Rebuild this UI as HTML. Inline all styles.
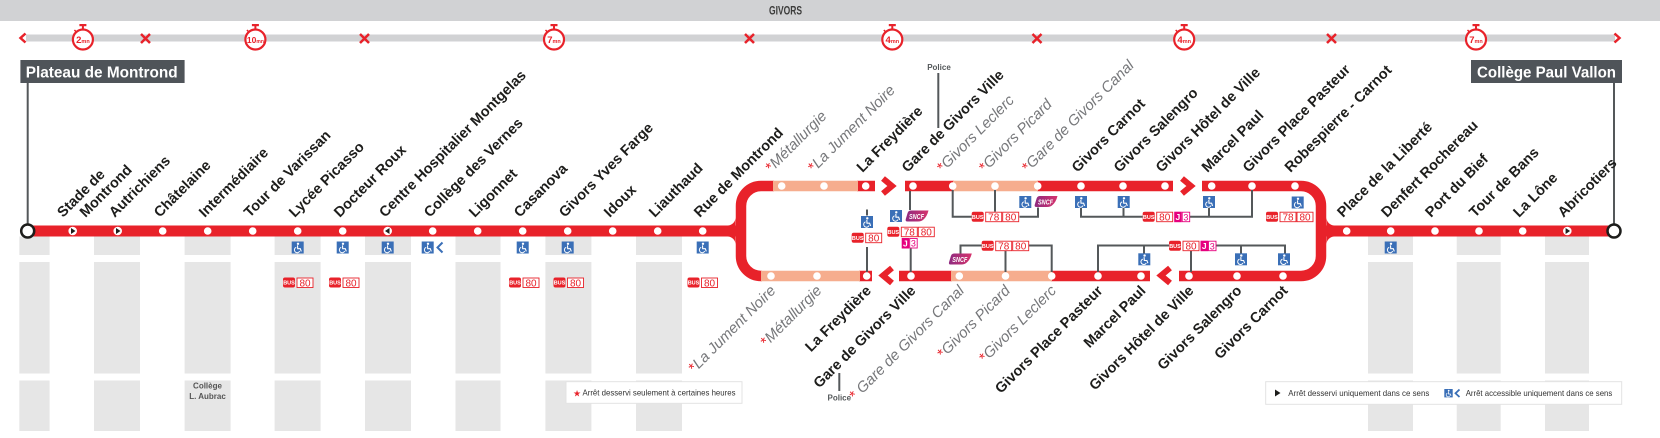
<!DOCTYPE html>
<html><head><meta charset="utf-8"><style>
html,body{margin:0;padding:0;background:#fff;}
svg{display:block}
.s{font-family:"Liberation Sans",sans-serif;font-weight:bold;font-size:14.5px;fill:#1d1d1b}
.i{font-family:"Liberation Sans",sans-serif;font-style:italic;font-size:15px;fill:#76777a}
.r{fill:#e8222a;font-style:normal}
.bt{font-family:"Liberation Sans",sans-serif;font-weight:bold;font-size:5.5px;fill:#fff}
.bn{font-family:"Liberation Sans",sans-serif;font-size:10px;fill:#e8222a}
.pn{font-family:"Liberation Sans",sans-serif;font-size:9px;fill:#e6007e}
.pj{font-family:"Liberation Sans",sans-serif;font-weight:bold;font-size:8.5px;fill:#fff}
.sn{font-family:"Liberation Sans",sans-serif;font-weight:bold;font-style:italic;font-size:7px;fill:#fff}
.sw{font-family:"Liberation Sans",sans-serif;font-weight:bold;fill:#e8222a}
.lg{font-family:"Liberation Sans",sans-serif;font-size:8.5px;fill:#333}
.po{font-family:"Liberation Sans",sans-serif;font-weight:bold;font-size:8px;fill:#54585a}
.tb{font-family:"Liberation Sans",sans-serif;font-weight:bold;font-size:16px;fill:#fff}
.cn{fill:none;stroke:#54585a;stroke-width:2}
</style></head><body>
<svg width="1660" height="438" viewBox="0 0 1660 438" xmlns="http://www.w3.org/2000/svg" xmlns:xlink="http://www.w3.org/1999/xlink">
<defs>
<linearGradient id="sg" x1="0" x2="1" y1="0" y2="0"><stop offset="0" stop-color="#8e2a80"/><stop offset="1" stop-color="#d6336c"/></linearGradient>
<g id="wc"><rect width="12" height="12" fill="#3a6fb7"/><circle cx="6.3" cy="2.3" r="1.2" fill="#fff"/><path d="M5.8 3.8 L6 7.2 H8.6 L9.6 9.9" fill="none" stroke="#fff" stroke-width="1.1"/><path d="M4.5 5.8 A2.8 2.8 0 1 0 8 9.6" fill="none" stroke="#fff" stroke-width="1"/></g>
<g id="snl"><path d="M2.5 11 Q0 11 0.8 8.5 L2.6 2.5 Q3.4 0 6 0 H23.5 Q22 6 18.5 9 Q16.5 11 13 11 Z" fill="url(#sg)"/></g>
</defs>

<!-- grey columns -->
<g fill="#e6e6e6">
<rect x="19.3" y="236.5" width="30.3" height="194.5"/>
<rect x="94" y="236.5" width="46" height="194.5"/>
<rect x="184.6" y="236.5" width="46" height="194.5"/>
<rect x="274.6" y="236.5" width="46" height="194.5"/>
<rect x="365" y="236.5" width="46" height="194.5"/>
<rect x="455.5" y="236.5" width="45" height="194.5"/>
<rect x="545.4" y="236.5" width="46" height="194.5"/>
<rect x="636" y="236.5" width="46" height="194.5"/>
<rect x="1368" y="236.5" width="45" height="194.5"/>
<rect x="1456.7" y="236.5" width="44" height="194.5"/>
<rect x="1545" y="236.5" width="44" height="194.5"/>
</g>
<g fill="#fff">
<rect x="0" y="255" width="735" height="7"/>
<rect x="0" y="373.5" width="735" height="7"/>
<rect x="1340" y="255" width="320" height="7"/>
<rect x="1340" y="373.5" width="320" height="7"/>
</g>

<!-- top band -->
<rect x="0" y="0" width="1660" height="21" fill="#d1d2d4"/>
<text x="785.5" y="14.5" text-anchor="middle" font-family="Liberation Sans, sans-serif" font-weight="bold" font-size="11.5" fill="#3c3c3b" textLength="33" lengthAdjust="spacingAndGlyphs">GIVORS</text>

<!-- timing bar -->
<rect x="26" y="34.5" width="1589" height="7" fill="#d1d2d4"/>
<g fill="none" stroke="#e8222a" stroke-width="2.5">
<polyline points="25.5,33.5 20.5,38 25.5,42.5"/>
<polyline points="1614.5,33.5 1619.5,38 1614.5,42.5"/>
<path d="M141 34 L150 43 M150 34 L141 43"/>
<path d="M360 34 L369 43 M369 34 L360 43"/>
<path d="M745 34 L754 43 M754 34 L745 43"/>
<path d="M1032.5 34 L1041.5 43 M1041.5 34 L1032.5 43"/>
<path d="M1327 34 L1336 43 M1336 34 L1327 43"/>
</g>
<g transform="translate(82.9,39.5)"><circle r="10" fill="#fff" stroke="#e8222a" stroke-width="2.2"/><rect x="-3.5" y="-15.5" width="7" height="2.2" fill="#e8222a"/><rect x="-1" y="-13.5" width="2" height="3" fill="#e8222a"/><line x1="-8.5" y1="-9.5" x2="-6.5" y2="-7.5" stroke="#e8222a" stroke-width="1.5"/><text y="3.3" text-anchor="middle" class="sw"><tspan font-size="9.5">2</tspan><tspan font-size="5.5">mn</tspan></text></g>
<g transform="translate(255.4,39.5)"><circle r="10" fill="#fff" stroke="#e8222a" stroke-width="2.2"/><rect x="-3.5" y="-15.5" width="7" height="2.2" fill="#e8222a"/><rect x="-1" y="-13.5" width="2" height="3" fill="#e8222a"/><line x1="-8.5" y1="-9.5" x2="-6.5" y2="-7.5" stroke="#e8222a" stroke-width="1.5"/><text y="3.3" text-anchor="middle" class="sw"><tspan font-size="8.5">10</tspan><tspan font-size="5">mn</tspan></text></g>
<g transform="translate(554,39.5)"><circle r="10" fill="#fff" stroke="#e8222a" stroke-width="2.2"/><rect x="-3.5" y="-15.5" width="7" height="2.2" fill="#e8222a"/><rect x="-1" y="-13.5" width="2" height="3" fill="#e8222a"/><line x1="-8.5" y1="-9.5" x2="-6.5" y2="-7.5" stroke="#e8222a" stroke-width="1.5"/><text y="3.3" text-anchor="middle" class="sw"><tspan font-size="9.5">7</tspan><tspan font-size="5.5">mn</tspan></text></g>
<g transform="translate(892.3,39.5)"><circle r="10" fill="#fff" stroke="#e8222a" stroke-width="2.2"/><rect x="-3.5" y="-15.5" width="7" height="2.2" fill="#e8222a"/><rect x="-1" y="-13.5" width="2" height="3" fill="#e8222a"/><line x1="-8.5" y1="-9.5" x2="-6.5" y2="-7.5" stroke="#e8222a" stroke-width="1.5"/><text y="3.3" text-anchor="middle" class="sw"><tspan font-size="9.5">4</tspan><tspan font-size="5.5">mn</tspan></text></g>
<g transform="translate(1184.2,39.5)"><circle r="10" fill="#fff" stroke="#e8222a" stroke-width="2.2"/><rect x="-3.5" y="-15.5" width="7" height="2.2" fill="#e8222a"/><rect x="-1" y="-13.5" width="2" height="3" fill="#e8222a"/><line x1="-8.5" y1="-9.5" x2="-6.5" y2="-7.5" stroke="#e8222a" stroke-width="1.5"/><text y="3.3" text-anchor="middle" class="sw"><tspan font-size="9.5">4</tspan><tspan font-size="5.5">mn</tspan></text></g>
<g transform="translate(1476,39.5)"><circle r="10" fill="#fff" stroke="#e8222a" stroke-width="2.2"/><rect x="-3.5" y="-15.5" width="7" height="2.2" fill="#e8222a"/><rect x="-1" y="-13.5" width="2" height="3" fill="#e8222a"/><line x1="-8.5" y1="-9.5" x2="-6.5" y2="-7.5" stroke="#e8222a" stroke-width="1.5"/><text y="3.3" text-anchor="middle" class="sw"><tspan font-size="9.5">7</tspan><tspan font-size="5.5">mn</tspan></text></g>

<!-- terminus boxes -->
<rect x="20.4" y="60" width="164.2" height="23" fill="#4f5459"/>
<text x="25.7" y="77.5" class="tb" textLength="152" lengthAdjust="spacingAndGlyphs">Plateau de Montrond</text>
<rect x="1471" y="60" width="151" height="23" fill="#4f5459"/>
<text x="1477" y="77.5" class="tb" textLength="139" lengthAdjust="spacingAndGlyphs">Collège Paul Vallon</text>
<line x1="27.7" y1="83" x2="27.7" y2="225" stroke="#54585a" stroke-width="2"/>
<line x1="1614" y1="83" x2="1614" y2="225" stroke="#54585a" stroke-width="2"/>

<!-- main lines -->
<g stroke="#e8222a" stroke-width="11" fill="none">
<line x1="27.7" y1="231" x2="741" y2="231"/>
<line x1="1321" y1="231" x2="1614" y2="231"/>
</g>
<g fill="#e8222a">
<path d="M727.5 225.5 A8 8 0 0 0 735.5 217.5 L735.5 225.5 Z"/>
<path d="M727.5 236.5 A8 8 0 0 1 735.5 244.5 L735.5 236.5 Z"/>
<path d="M1334.5 225.5 A8 8 0 0 1 1326.5 217.5 L1326.5 225.5 Z"/>
<path d="M1334.5 236.5 A8 8 0 0 0 1326.5 244.5 L1326.5 236.5 Z"/>
</g>
<g stroke="#e8222a" stroke-width="10.5" fill="none">
<path d="M774 186 H761 A20 20 0 0 0 741 206 V256 A20 20 0 0 0 761 276 H762"/>
<path d="M1202 186 H1301 A20 20 0 0 1 1321 206 V256 A20 20 0 0 1 1301 276 H1179"/>
<path d="M857 186 H875 M905 186 H954 M1037 186 H1173"/>
<path d="M859 276 H872 M899 276 H952 M1051 276 H1150"/>
</g>
<g stroke="#f6ad8e" stroke-width="10.5" fill="none">
<path d="M773 186 H858 M953 186 H1038"/>
<path d="M761 276 H860 M951 276 H1052"/>
</g>
<g stroke="#e8222a" stroke-width="6" fill="none">
<polyline points="883,178.5 892,186 883,193.5"/>
<polyline points="1182,178.5 1191,186 1182,193.5"/>
<polyline points="892,268 883,275.5 892,283"/>
<polyline points="1170,268 1161,275.5 1170,283"/>
</g>

<!-- connectors -->
<g class="cn">
<path d="M910 191 V210"/>
<path d="M952.7 190 V216.7 H971.7"/>
<path d="M995 190 V211.7"/>
<path d="M1019.5 216.7 H1038 V207.5"/>
<path d="M1081 207.5 V216.7 H1142.7"/>
<path d="M1123.5 207.5 V216.7"/>
<path d="M1190 216.7 H1252 V190"/>
<path d="M1209 207.5 V216.7"/>
<path d="M867 247 V272"/>
<path d="M867 209.5 V215.5"/>
<path d="M910.7 248.5 V272"/>
<path d="M960.5 253.5 V245.5 H981.7"/>
<path d="M1005.5 251 V272"/>
<path d="M1029 245.5 H1051.7 V272"/>
<path d="M1098 272 V245.5 H1169"/>
<path d="M1144 245.5 V253.5"/>
<path d="M1191 251 V272"/>
<path d="M1216 245.5 H1285 V253.5"/>
<path d="M1241 245.5 V253.5"/>
<path d="M938.3 73 V128"/>
<path d="M839.3 373 V391"/>
</g>

<!-- stop dots -->
<g fill="#fff">
<circle cx="162.7" cy="231" r="3.8"/><circle cx="207.7" cy="231" r="3.8"/><circle cx="252.7" cy="231" r="3.8"/><circle cx="297.7" cy="231" r="3.8"/><circle cx="342.7" cy="231" r="3.8"/><circle cx="432.7" cy="231" r="3.8"/><circle cx="477.7" cy="231" r="3.8"/><circle cx="522.7" cy="231" r="3.8"/><circle cx="567.7" cy="231" r="3.8"/><circle cx="612.7" cy="231" r="3.8"/><circle cx="657.7" cy="231" r="3.8"/><circle cx="702.7" cy="231" r="3.8"/>
<circle cx="72.7" cy="231" r="4.3"/><circle cx="117.7" cy="231" r="4.3"/><circle cx="387.7" cy="231" r="4.3"/><circle cx="1567.3" cy="231" r="4.3"/>
<circle cx="781.7" cy="186" r="3.8"/><circle cx="824" cy="186" r="3.8"/><circle cx="865.7" cy="186" r="3.8"/><circle cx="913" cy="186" r="3.8"/><circle cx="952.7" cy="186" r="3.8"/><circle cx="995" cy="186" r="3.8"/><circle cx="1037.7" cy="186" r="3.8"/><circle cx="1081" cy="186" r="3.8"/><circle cx="1123" cy="186" r="3.8"/><circle cx="1165" cy="186" r="3.8"/><circle cx="1211.7" cy="186" r="3.8"/><circle cx="1252" cy="186" r="3.8"/><circle cx="1295" cy="186" r="3.8"/>
<circle cx="771" cy="276" r="3.8"/><circle cx="817" cy="276" r="3.8"/><circle cx="866.7" cy="276" r="3.8"/><circle cx="911" cy="276" r="3.8"/><circle cx="959.3" cy="276" r="3.8"/><circle cx="1005.5" cy="276" r="3.8"/><circle cx="1051.7" cy="276" r="3.8"/><circle cx="1098" cy="276" r="3.8"/><circle cx="1141" cy="276" r="3.8"/><circle cx="1189" cy="276" r="3.8"/><circle cx="1237" cy="276" r="3.8"/><circle cx="1283" cy="276" r="3.8"/>
<circle cx="1346.7" cy="231" r="3.8"/><circle cx="1390.7" cy="231" r="3.8"/><circle cx="1435" cy="231" r="3.8"/><circle cx="1479" cy="231" r="3.8"/><circle cx="1522.7" cy="231" r="3.8"/>
</g>
<g fill="#1d1d1b">
<polygon points="71,228 75.5,231 71,234"/>
<polygon points="116,228 120.5,231 116,234"/>
<polygon points="389.5,228 385,231 389.5,234"/>
<polygon points="1565.6,228 1570.1,231 1565.6,234"/>
</g>
<circle cx="27.7" cy="231" r="6.5" fill="#fff" stroke="#1d1d1b" stroke-width="2.5"/>
<circle cx="1614" cy="231" r="6.5" fill="#fff" stroke="#1d1d1b" stroke-width="2.5"/>

<!-- wheelchairs -->
<use href="#wc" xlink:href="#wc" x="291.7" y="241.5"/>
<use href="#wc" xlink:href="#wc" x="336.7" y="241.5"/>
<use href="#wc" xlink:href="#wc" x="381.7" y="241.5"/>
<use href="#wc" xlink:href="#wc" x="421.7" y="241.5"/>
<polyline points="442.5,242.5 437.5,247.5 442.5,252.5" fill="none" stroke="#3a6fb7" stroke-width="2"/>
<use href="#wc" xlink:href="#wc" x="516.7" y="241.5"/>
<use href="#wc" xlink:href="#wc" x="561.7" y="241.5"/>
<use href="#wc" xlink:href="#wc" x="696.7" y="241.5"/>
<use href="#wc" xlink:href="#wc" x="1384.7" y="241.5"/>
<use href="#wc" xlink:href="#wc" x="861" y="216"/>
<use href="#wc" xlink:href="#wc" x="890" y="210"/>
<use href="#wc" xlink:href="#wc" x="1019.3" y="196"/>
<use href="#wc" xlink:href="#wc" x="1075" y="196"/>
<use href="#wc" xlink:href="#wc" x="1117.7" y="196"/>
<use href="#wc" xlink:href="#wc" x="1203" y="196"/>
<use href="#wc" xlink:href="#wc" x="1291.7" y="196.5"/>
<use href="#wc" xlink:href="#wc" x="1138.3" y="253.3"/>
<use href="#wc" xlink:href="#wc" x="1235" y="253.3"/>
<use href="#wc" xlink:href="#wc" x="1278" y="253.3"/>

<!-- SNCF -->
<g transform="translate(905,210.5)"><use href="#snl" xlink:href="#snl"/><text x="4" y="8.5" class="sn" textLength="15" lengthAdjust="spacingAndGlyphs">SNCF</text></g>
<g transform="translate(1034,196)"><use href="#snl" xlink:href="#snl"/><text x="4" y="8.5" class="sn" textLength="15" lengthAdjust="spacingAndGlyphs">SNCF</text></g>
<g transform="translate(948.3,253.5)"><use href="#snl" xlink:href="#snl"/><text x="4" y="8.5" class="sn" textLength="15" lengthAdjust="spacingAndGlyphs">SNCF</text></g>

<!-- BUS 80 -->
<g transform="translate(283,277.5)"><rect width="12" height="10" rx="2" fill="#e8222a"/><text x="6" y="7.1" class="bt" text-anchor="middle">BUS</text><rect x="14" y="0.5" width="16" height="9.5" fill="#fff" stroke="#e8222a" stroke-width="0.9"/><text x="22" y="8.8" class="bn" text-anchor="middle">80</text></g>
<g transform="translate(329,277.5)"><rect width="12" height="10" rx="2" fill="#e8222a"/><text x="6" y="7.1" class="bt" text-anchor="middle">BUS</text><rect x="14" y="0.5" width="16" height="9.5" fill="#fff" stroke="#e8222a" stroke-width="0.9"/><text x="22" y="8.8" class="bn" text-anchor="middle">80</text></g>
<g transform="translate(509,277.5)"><rect width="12" height="10" rx="2" fill="#e8222a"/><text x="6" y="7.1" class="bt" text-anchor="middle">BUS</text><rect x="14" y="0.5" width="16" height="9.5" fill="#fff" stroke="#e8222a" stroke-width="0.9"/><text x="22" y="8.8" class="bn" text-anchor="middle">80</text></g>
<g transform="translate(553.5,277.5)"><rect width="12" height="10" rx="2" fill="#e8222a"/><text x="6" y="7.1" class="bt" text-anchor="middle">BUS</text><rect x="14" y="0.5" width="16" height="9.5" fill="#fff" stroke="#e8222a" stroke-width="0.9"/><text x="22" y="8.8" class="bn" text-anchor="middle">80</text></g>
<g transform="translate(687.5,277.5)"><rect width="12" height="10" rx="2" fill="#e8222a"/><text x="6" y="7.1" class="bt" text-anchor="middle">BUS</text><rect x="14" y="0.5" width="16" height="9.5" fill="#fff" stroke="#e8222a" stroke-width="0.9"/><text x="22" y="8.8" class="bn" text-anchor="middle">80</text></g>
<g transform="translate(851.7,232.7)"><rect width="12" height="10" rx="2" fill="#e8222a"/><text x="6" y="7.1" class="bt" text-anchor="middle">BUS</text><rect x="14" y="0.5" width="16" height="9.5" fill="#fff" stroke="#e8222a" stroke-width="0.9"/><text x="22" y="8.8" class="bn" text-anchor="middle">80</text></g>
<!-- BUS 78 80 -->
<g transform="translate(887.3,226.7)"><rect width="12" height="10" rx="2" fill="#e8222a"/><text x="6" y="7.1" class="bt" text-anchor="middle">BUS</text><rect x="14" y="0.5" width="16" height="9.5" fill="#fff" stroke="#e8222a" stroke-width="0.9"/><text x="22" y="8.8" class="bn" text-anchor="middle">78</text><rect x="31" y="0.5" width="16" height="9.5" fill="#fff" stroke="#e8222a" stroke-width="0.9"/><text x="39" y="8.8" class="bn" text-anchor="middle">80</text></g>
<g transform="translate(971.7,211.7)"><rect width="12" height="10" rx="2" fill="#e8222a"/><text x="6" y="7.1" class="bt" text-anchor="middle">BUS</text><rect x="14" y="0.5" width="16" height="9.5" fill="#fff" stroke="#e8222a" stroke-width="0.9"/><text x="22" y="8.8" class="bn" text-anchor="middle">78</text><rect x="31" y="0.5" width="16" height="9.5" fill="#fff" stroke="#e8222a" stroke-width="0.9"/><text x="39" y="8.8" class="bn" text-anchor="middle">80</text></g>
<g transform="translate(1266,211.7)"><rect width="12" height="10" rx="2" fill="#e8222a"/><text x="6" y="7.1" class="bt" text-anchor="middle">BUS</text><rect x="14" y="0.5" width="16" height="9.5" fill="#fff" stroke="#e8222a" stroke-width="0.9"/><text x="22" y="8.8" class="bn" text-anchor="middle">78</text><rect x="31" y="0.5" width="16" height="9.5" fill="#fff" stroke="#e8222a" stroke-width="0.9"/><text x="39" y="8.8" class="bn" text-anchor="middle">80</text></g>
<g transform="translate(981.7,240.7)"><rect width="12" height="10" rx="2" fill="#e8222a"/><text x="6" y="7.1" class="bt" text-anchor="middle">BUS</text><rect x="14" y="0.5" width="16" height="9.5" fill="#fff" stroke="#e8222a" stroke-width="0.9"/><text x="22" y="8.8" class="bn" text-anchor="middle">78</text><rect x="31" y="0.5" width="16" height="9.5" fill="#fff" stroke="#e8222a" stroke-width="0.9"/><text x="39" y="8.8" class="bn" text-anchor="middle">80</text></g>
<!-- BUS 80 J3 -->
<g transform="translate(1142.7,211.7)"><rect width="12" height="10" rx="2" fill="#e8222a"/><text x="6" y="7.1" class="bt" text-anchor="middle">BUS</text><rect x="14" y="0.5" width="16" height="9.5" fill="#fff" stroke="#e8222a" stroke-width="0.9"/><text x="22" y="8.8" class="bn" text-anchor="middle">80</text><rect x="31.5" y="0" width="7.5" height="10.5" fill="#e6007e"/><text x="35.2" y="8.3" class="pj" text-anchor="middle">J</text><rect x="39.5" y="0.5" width="7.5" height="9.5" fill="#fff" stroke="#e6007e" stroke-width="0.9"/><text x="43.2" y="8.6" class="pn" text-anchor="middle">3</text></g>
<g transform="translate(1169,240.7)"><rect width="12" height="10" rx="2" fill="#e8222a"/><text x="6" y="7.1" class="bt" text-anchor="middle">BUS</text><rect x="14" y="0.5" width="16" height="9.5" fill="#fff" stroke="#e8222a" stroke-width="0.9"/><text x="22" y="8.8" class="bn" text-anchor="middle">80</text><rect x="31.5" y="0" width="7.5" height="10.5" fill="#e6007e"/><text x="35.2" y="8.3" class="pj" text-anchor="middle">J</text><rect x="39.5" y="0.5" width="7.5" height="9.5" fill="#fff" stroke="#e6007e" stroke-width="0.9"/><text x="43.2" y="8.6" class="pn" text-anchor="middle">3</text></g>
<g transform="translate(901.7,238)"><rect x="0" y="0" width="7.5" height="10.5" fill="#e6007e"/><text x="3.7" y="8.3" class="pj" text-anchor="middle">J</text><rect x="8" y="0.5" width="7.5" height="9.5" fill="#fff" stroke="#e6007e" stroke-width="0.9"/><text x="11.7" y="8.6" class="pn" text-anchor="middle">3</text></g>

<!-- Police -->
<text x="939" y="70" class="po" text-anchor="middle">Police</text>
<text x="839.3" y="400.5" class="po" text-anchor="middle">Police</text>

<!-- left main labels -->
<text class="s" transform="translate(63,218) rotate(-45)">Stade de</text>
<text class="s" transform="translate(85.5,218) rotate(-45)">Montrond</text>
<text class="s" transform="translate(114.7,218) rotate(-45)">Autrichiens</text>
<text class="s" transform="translate(159.7,218) rotate(-45)">Châtelaine</text>
<text class="s" transform="translate(204.7,218) rotate(-45)">Intermédiaire</text>
<text class="s" transform="translate(249.7,218) rotate(-45)">Tour de Varissan</text>
<text class="s" transform="translate(294.7,218) rotate(-45)">Lycée Picasso</text>
<text class="s" transform="translate(339.7,218) rotate(-45)">Docteur Roux</text>
<text class="s" transform="translate(385,218) rotate(-45)">Centre Hospitalier Montgelas</text>
<text class="s" transform="translate(429.7,218) rotate(-45)">Collège des Vernes</text>
<text class="s" transform="translate(474.7,218) rotate(-45)">Ligonnet</text>
<text class="s" transform="translate(519.7,218) rotate(-45)">Casanova</text>
<text class="s" transform="translate(564.7,218) rotate(-45)">Givors Yves Farge</text>
<text class="s" transform="translate(609.7,218) rotate(-45)">Idoux</text>
<text class="s" transform="translate(654.7,218) rotate(-45)">Liauthaud</text>
<text class="s" transform="translate(699.7,218) rotate(-45)">Rue de Montrond</text>

<!-- top loop labels -->
<text class="i" transform="translate(771.5,173) rotate(-45)"><tspan class="r">*</tspan>Métallurgie</text>
<text class="i" transform="translate(814,173) rotate(-45)"><tspan class="r">*</tspan>La Jument Noire</text>
<text class="s" transform="translate(862.5,173) rotate(-45)">La Freydière</text>
<text class="s" transform="translate(907.5,173) rotate(-45)">Gare de Givors Ville</text>
<text class="i" transform="translate(943,173) rotate(-45)"><tspan class="r">*</tspan>Givors Leclerc</text>
<text class="i" transform="translate(985,173) rotate(-45)"><tspan class="r">*</tspan>Givors Picard</text>
<text class="i" transform="translate(1028,173) rotate(-45)"><tspan class="r">*</tspan>Gare de Givors Canal</text>
<text class="s" transform="translate(1077.5,173) rotate(-45)">Givors Carnot</text>
<text class="s" transform="translate(1119.5,173) rotate(-45)">Givors Salengro</text>
<text class="s" transform="translate(1161.5,173) rotate(-45)">Givors Hôtel de Ville</text>
<text class="s" transform="translate(1207.5,173) rotate(-45)">Marcel Paul</text>
<text class="s" transform="translate(1248.5,173) rotate(-45)">Givors Place Pasteur</text>
<text class="s" transform="translate(1290.5,173) rotate(-45)">Robespierre - Carnot</text>

<!-- right main labels -->
<text class="s" transform="translate(1343,218) rotate(-45)">Place de la Liberté</text>
<text class="s" transform="translate(1387,218) rotate(-45)">Denfert Rochereau</text>
<text class="s" transform="translate(1431,218) rotate(-45)">Port du Bief</text>
<text class="s" transform="translate(1475,218) rotate(-45)">Tour de Bans</text>
<text class="s" transform="translate(1519,218) rotate(-45)">La Lône</text>
<text class="s" transform="translate(1563.5,218) rotate(-45)">Abricotiers</text>

<!-- bottom loop labels -->
<text class="i" text-anchor="end" transform="translate(776.5,291.5) rotate(-45)"><tspan class="r">*</tspan>La Jument Noire</text>
<text class="i" text-anchor="end" transform="translate(822.5,291.5) rotate(-45)"><tspan class="r">*</tspan>Métallurgie</text>
<text class="s" text-anchor="end" transform="translate(872,291.5) rotate(-45)">La Freydière</text>
<text class="s" text-anchor="end" transform="translate(916.5,291.5) rotate(-45)">Gare de Givors Ville</text>
<text class="i" text-anchor="end" transform="translate(965,291.5) rotate(-45)"><tspan class="r">*</tspan> Gare de Givors Canal</text>
<text class="i" text-anchor="end" transform="translate(1011,291.5) rotate(-45)"><tspan class="r">*</tspan>Givors Picard</text>
<text class="i" text-anchor="end" transform="translate(1057,291.5) rotate(-45)"><tspan class="r">*</tspan>Givors Leclerc</text>
<text class="s" text-anchor="end" transform="translate(1103.5,291.5) rotate(-45)">Givors Place Pasteur</text>
<text class="s" text-anchor="end" transform="translate(1146.5,291.5) rotate(-45)">Marcel Paul</text>
<text class="s" text-anchor="end" transform="translate(1194.5,291.5) rotate(-45)">Givors Hôtel de Ville</text>
<text class="s" text-anchor="end" transform="translate(1242.5,291.5) rotate(-45)">Givors Salengro</text>
<text class="s" text-anchor="end" transform="translate(1288.5,291.5) rotate(-45)">Givors Carnot</text>

<!-- Collège L. Aubrac -->
<text x="207.5" y="388.5" text-anchor="middle" font-family="Liberation Sans, sans-serif" font-weight="bold" font-size="8" fill="#555">Collège</text>
<text x="207.5" y="399" text-anchor="middle" font-family="Liberation Sans, sans-serif" font-weight="bold" font-size="8" fill="#555">L. Aubrac</text>

<!-- legends -->
<rect x="566" y="381.7" width="176" height="21.6" fill="#fff" stroke="#e3e3e3" stroke-width="1"/>
<text x="573" y="396.5" font-family="DejaVu Sans, sans-serif" font-size="9" fill="#e8222a">★</text>
<text x="582.5" y="395.5" class="lg" textLength="153" lengthAdjust="spacingAndGlyphs">Arrêt desservi seulement à certaines heures</text>

<rect x="1265.7" y="381.7" width="356" height="22.6" fill="#fff" stroke="#e3e3e3" stroke-width="1"/>
<polygon points="1275,389.5 1280.5,393 1275,396.5" fill="#1d1d1b"/>
<text x="1288.3" y="396" class="lg" textLength="141" lengthAdjust="spacingAndGlyphs">Arrêt desservi uniquement dans ce sens</text>
<use href="#wc" xlink:href="#wc" transform="translate(1444.3,389) scale(0.7)"/>
<polyline points="1459.5,389.5 1455.5,393.3 1459.5,397" fill="none" stroke="#3a6fb7" stroke-width="1.8"/>
<text x="1465.7" y="396" class="lg" textLength="146.6" lengthAdjust="spacingAndGlyphs">Arrêt accessible uniquement dans ce sens</text>
</svg>
</body></html>
